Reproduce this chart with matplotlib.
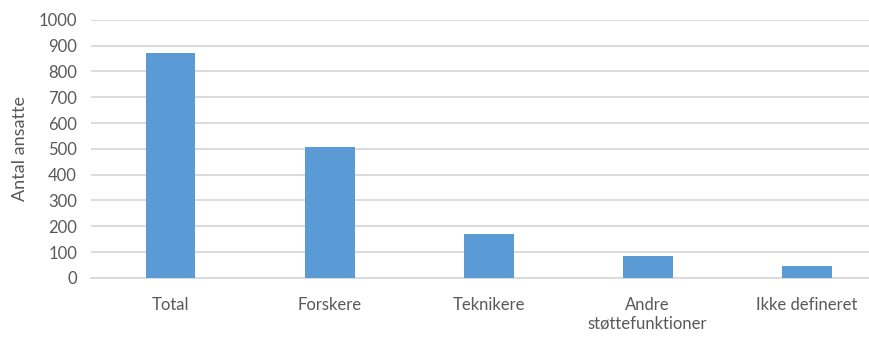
import matplotlib
matplotlib.use("Agg")
import matplotlib.pyplot as plt
import numpy as np

# data
categories = ["Total", "Forskere", "Teknikere", "Andre\nstøttefunktioner", "Ikke defineret"]
values = [872, 507, 170, 84, 45]
yticks = list(range(0, 1001, 100))

plt.rcParams['font.family'] = ['Lato', 'DejaVu Sans']

fig = plt.figure(figsize=(8.7, 3.43), dpi=100)
# plot area runs past the right edge of the picture, like the reference
ax = fig.add_axes([0.1046, 0.19, 0.914, 0.752])

x = np.arange(len(categories))
ax.bar(x, values, width=0.314, color="#5b9bd5", zorder=3)

ax.set_ylim(0, 1000)
ax.set_xlim(-0.5, len(categories) - 0.5)
ax.set_yticks(yticks)
ax.set_xticks(x)
ax.set_xticklabels(categories, linespacing=1.15)
ax.yaxis.grid(True, color="#d9d9d9", linewidth=1.3, zorder=0)
ax.tick_params(axis="both", length=0, labelsize=12, colors="#595959")
ax.tick_params(axis="y", pad=10)
ax.tick_params(axis="x", pad=14)

for side in ["top", "right", "left"]:
    ax.spines[side].set_visible(False)
ax.spines["bottom"].set_color("#d9d9d9")
ax.spines["bottom"].set_linewidth(1.3)

ax.set_ylabel("Antal ansatte", fontsize=13, color="#595959", labelpad=8)

fig.savefig("out.png", dpi=100)
